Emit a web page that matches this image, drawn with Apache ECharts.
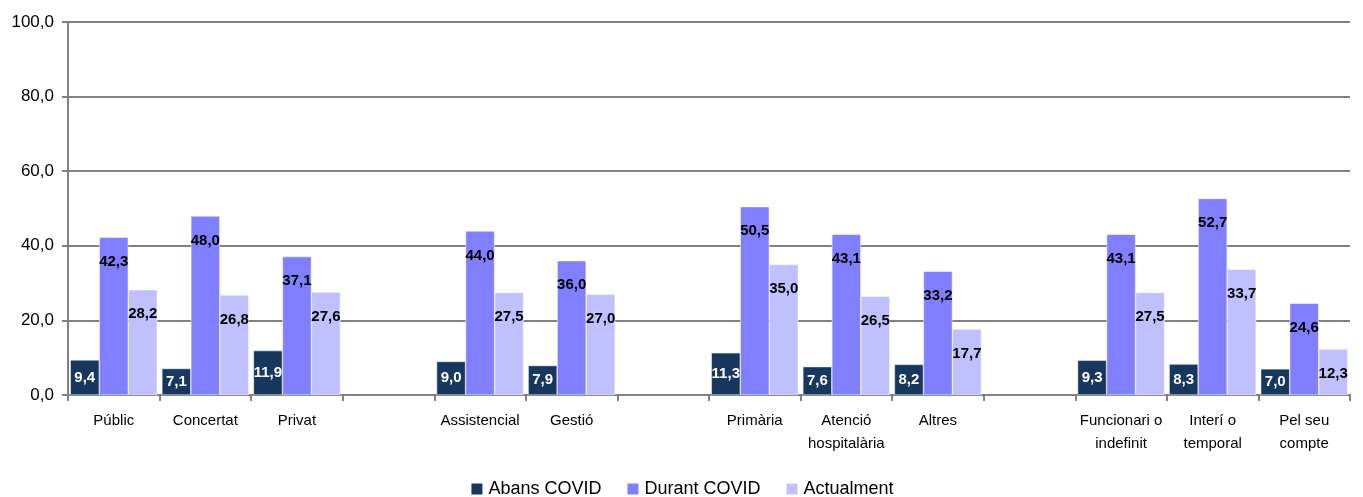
<!DOCTYPE html>
<html>
<head>
<meta charset="utf-8">
<script src="https://cdn.jsdelivr.net/npm/echarts@6/dist/echarts.min.js"></script>
<style>
  html, body { margin: 0; padding: 0; background: #fff; }
  #chart { width: 1363px; height: 497px; }
</style>
</head>
<body>
<div id="chart"></div>
<script>
// categories (empty strings are the gaps between groups)
var categories = ['Públic', 'Concertat', 'Privat', '', 'Assistencial', 'Gestió', '',
  'Primària', 'Atenció\nhospitalària', 'Altres', '',
  'Funcionari o\nindefinit', 'Interí o\ntemporal', 'Pel seu\ncompte']
var abans = [9.4, 7.1, 11.9, null, 9.0, 7.9, null, 11.3, 7.6, 8.2, null, 9.3, 8.3, 7.0]
var durant = [42.3, 48.0, 37.1, null, 44.0, 36.0, null, 50.5, 43.1, 33.2, null, 43.1, 52.7, 24.6]
var actualment = [28.2, 26.8, 27.6, null, 27.5, 27.0, null, 35.0, 26.5, 17.7, null, 27.5, 33.7, 12.3]

var fontFamily = "'Liberation Sans Narrow', 'Arial Narrow', 'Liberation Sans', Arial, sans-serif"

function fmt (v) {
  return v.toFixed(1).replace('.', ',')
}

function labelCfg (color, position, distance) {
  return {
    show: true,
    position: position,
    distance: distance,
    color: color,
    fontFamily: fontFamily,
    fontWeight: 'bold',
    fontSize: 15,
    formatter: function (p) { return fmt(p.value) }
  }
}

var chart = echarts.init(document.getElementById('chart'))
chart.setOption({
  animation: false,
  textStyle: { fontFamily: fontFamily },
  grid: { left: 68, right: 13, top: 22, bottom: 102, containLabel: false },
  legend: {
    top: 475,
    left: 'center',
    itemWidth: 13,
    itemHeight: 13,
    itemGap: 24,
    icon: 'rect',
    textStyle: { fontSize: 18, color: '#000', fontFamily: fontFamily },
    data: ['Abans COVID', 'Durant COVID', 'Actualment']
  },
  xAxis: {
    type: 'category',
    data: categories,
    axisLine: { lineStyle: { color: '#808080', width: 2 } },
    axisTick: { show: true, length: 6, lineStyle: { color: '#808080', width: 2 } },
    axisLabel: { color: '#000', fontSize: 15, margin: 14, lineHeight: 23, interval: 0 }
  },
  yAxis: {
    type: 'value',
    min: 0,
    max: 100,
    interval: 20,
    axisLine: { show: true, lineStyle: { color: '#808080', width: 2 } },
    axisTick: { show: true, length: 6, inside: false, lineStyle: { color: '#808080', width: 2 } },
    splitLine: { lineStyle: { color: '#808080', width: 2 } },
    axisLabel: { color: '#000', fontSize: 17, margin: 14, formatter: function (v) { return fmt(v) } }
  },
  series: [
    {
      name: 'Abans COVID',
      type: 'bar',
      data: abans,
      barGap: '0%',
      barCategoryGap: '5%',
      itemStyle: { color: '#17375E', borderColor: '#fff', borderWidth: 0.5 },
      label: labelCfg('#fff', 'inside', 0)
    },
    {
      name: 'Durant COVID',
      type: 'bar',
      data: durant,
      itemStyle: { color: '#8080FF', borderColor: '#fff', borderWidth: 0.5 },
      label: labelCfg('#000', 'insideTop', 17)
    },
    {
      name: 'Actualment',
      type: 'bar',
      data: actualment,
      itemStyle: { color: '#C0C0FF', borderColor: '#fff', borderWidth: 0.5 },
      label: labelCfg('#000', 'insideTop', 17)
    }
  ]
})
</script>
</body>
</html>
